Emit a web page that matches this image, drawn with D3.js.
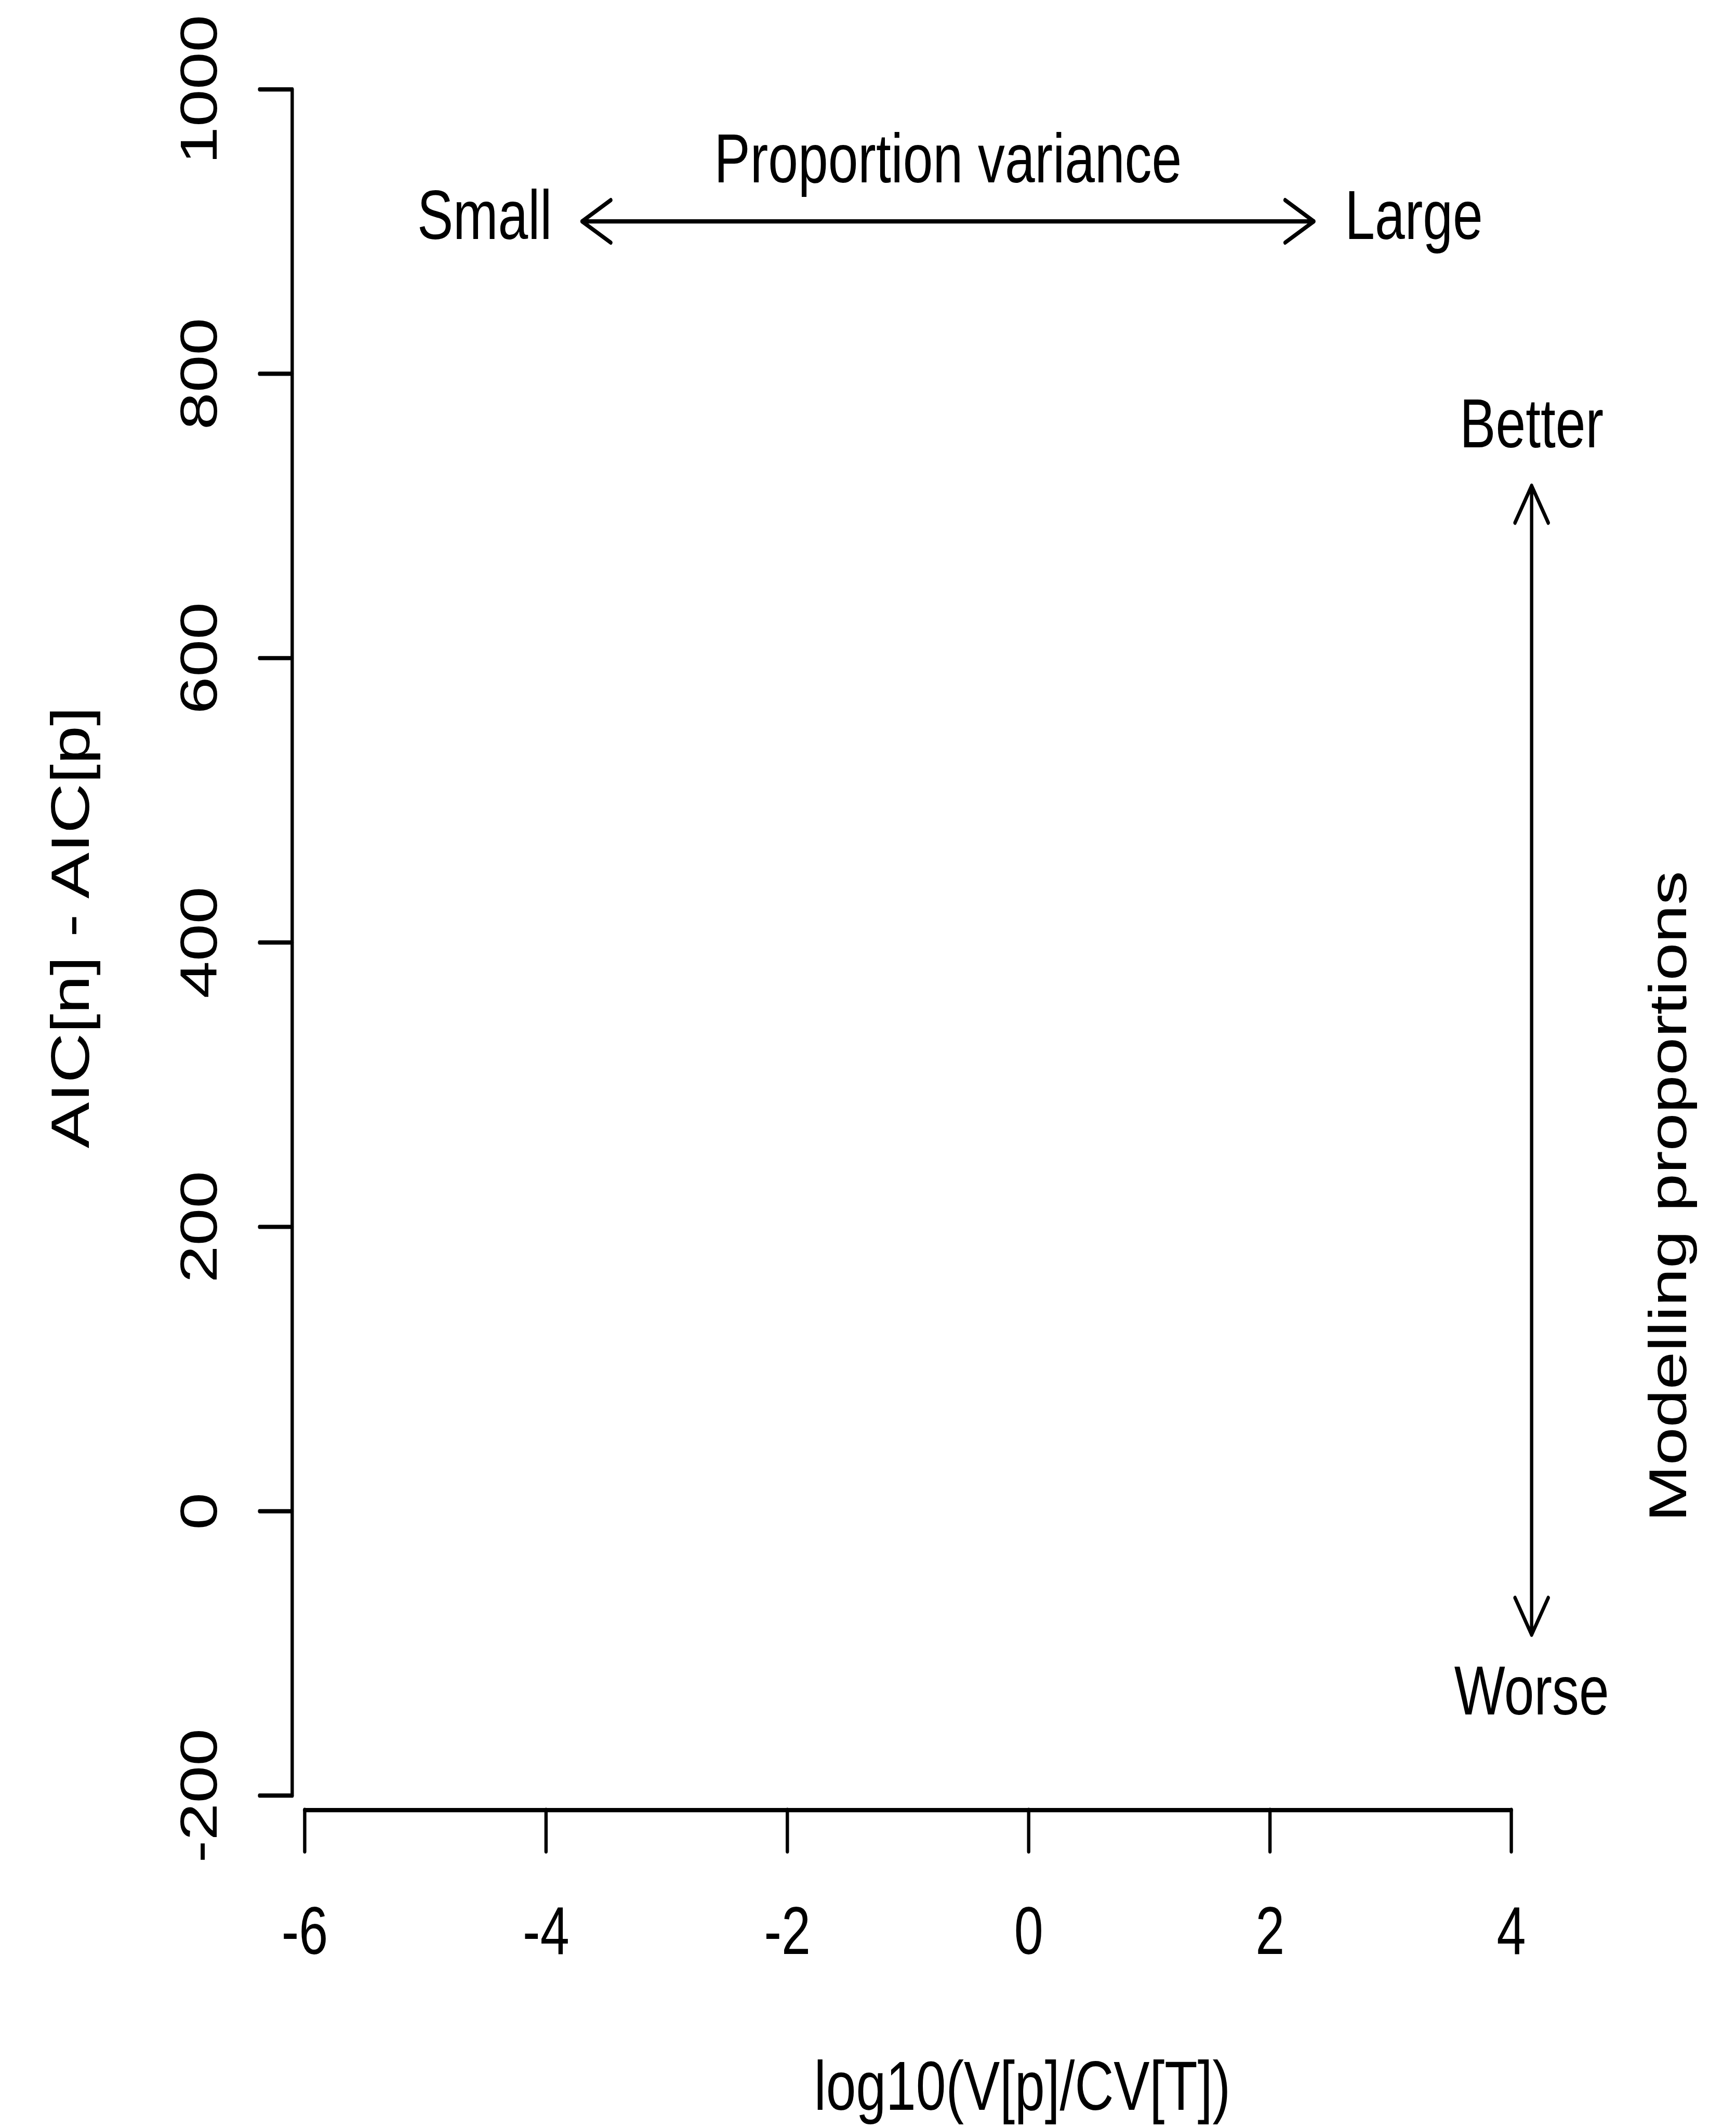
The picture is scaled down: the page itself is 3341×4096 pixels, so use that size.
<!DOCTYPE html>
<html>
<head>
<meta charset="utf-8">
<script src="https://cdn.jsdelivr.net/npm/d3@7"></script>
<style>
  html, body { margin: 0; padding: 0; background: #ffffff; }
  svg { display: block; }
  text { font-family: "Liberation Sans", Arial, Helvetica, sans-serif; fill: #000; }
</style>
</head>
<body>
<script>
// ---------------- data ----------------
const xDomain = [-6, 4];
const yDomain = [-200, 1000];
const xTicks = [-6, -4, -2, 0, 2, 4];
const yTicks = [-200, 0, 200, 400, 600, 800, 1000];
const xLabel = "log10(V[p]/CV[T])";
const yLabel = "AIC[n] - AIC[p]";
const sideLabel = "Modelling proportions";
const hArrowX = [-3.70, 2.365];    // proportion-variance arrow, x data range
const hArrowY = [907];             // its y data value
const hArrowLabels = ["Small", "Large"];
const hArrowTitle = ["Proportion variance"];
const vArrowX = [4.17];            // modelling arrow x data value
const vArrowY = [-87, 721];        // its y data range
const vArrowLabels = ["Worse", "Better"];

// ---------------- layout ----------------
const W = 3341, H = 4096;
const K = W / 3466;       // overall scale to window
const SX = 0.78;          // horizontal squeeze of the original picture
const ix = px => px / SX; // reference horizontal pixels -> internal units

const svg = d3.select("body").append("svg")
  .attr("width", W).attr("height", H)
  .attr("viewBox", `0 0 ${W} ${H}`);
svg.append("rect").attr("width", W).attr("height", H).attr("fill", "#fff");

const root = svg.append("g").attr("transform", `scale(${K * SX},${K})`);

const x = d3.scaleLinear().domain(xDomain).range([ix(608), ix(3017)]);
const y = d3.scaleLinear().domain(yDomain).range([3585, 178]);

const LW = 8.5;
const tickFont = 134, labFont = 138;

// ---------------- x axis ----------------
const gx = root.append("g")
  .attr("transform", `translate(0,3614)`)
  .call(d3.axisBottom(x).tickValues(xTicks).tickSize(83).tickSizeOuter(0)
        .tickFormat(d => String(d)));
gx.select(".domain").attr("stroke", "#000").attr("stroke-width", LW).attr("stroke-linecap", "round");
gx.selectAll(".tick line").attr("stroke", "#000").attr("stroke-width", LW).attr("stroke-linecap", "round");
gx.selectAll(".tick text")
  .attr("y", 288).attr("dy", null)
  .attr("font-size", tickFont)
  .attr("font-family", "Liberation Sans, Arial, Helvetica, sans-serif")
  .attr("fill", "#000");

// ---------------- y axis ----------------
const gy = root.append("g")
  .attr("transform", `translate(${ix(583)},0)`)
  .call(d3.axisLeft(y).tickValues(yTicks).tickSize(83).tickSizeOuter(0)
        .tickFormat(d => String(d)));
gy.select(".domain").attr("stroke", "#000").attr("stroke-width", LW).attr("stroke-linecap", "round");
gy.selectAll(".tick line").attr("stroke", "#000").attr("stroke-width", LW).attr("stroke-linecap", "round");
gy.selectAll(".tick text")
  .attr("x", null).attr("dy", null)
  .attr("text-anchor", "middle")
  .attr("transform", `translate(${-ix(583 - 433)},0) rotate(-90)`)
  .attr("font-size", tickFont)
  .attr("font-family", "Liberation Sans, Arial, Helvetica, sans-serif")
  .attr("fill", "#000");

// ---------------- axis titles ----------------
root.append("text")
  .attr("x", ix(2041)).attr("y", 4213)
  .attr("text-anchor", "middle").attr("font-size", labFont)
  .text(xLabel);

root.append("text")
  .attr("transform", `translate(${ix(177)},1852) rotate(-90)`)
  .attr("text-anchor", "middle").attr("font-size", labFont)
  .text(yLabel);

root.append("text")
  .attr("transform", `translate(${ix(3366)},2389) rotate(-90)`)
  .attr("text-anchor", "middle").attr("font-size", 136)
  .text(sideLabel);

// ---------------- arrows ----------------
const HEAD = 85, ANG = Math.PI / 6;
function arrowPath(p0, p1) {
  const p = d3.path();
  p.moveTo(p0[0], p0[1]); p.lineTo(p1[0], p1[1]);
  for (const [tip, from] of [[p1, p0], [p0, p1]]) {
    const a = Math.atan2(tip[1] - from[1], tip[0] - from[0]);
    for (const s of [-1, 1]) {
      const b = a + s * ANG;
      p.moveTo(tip[0] - HEAD * Math.cos(b), tip[1] - HEAD * Math.sin(b));
      p.lineTo(tip[0], tip[1]);
    }
  }
  return p.toString();
}

const hy = y(hArrowY[0]);
const hx0 = x(hArrowX[0]), hx1 = x(hArrowX[1]);
root.append("path")
  .attr("d", arrowPath([hx0, hy], [hx1, hy]))
  .attr("fill", "none").attr("stroke", "#000").attr("stroke-width", LW)
  .attr("stroke-linecap", "round").attr("stroke-linejoin", "round");

root.append("text")
  .attr("x", hx0 - ix(60)).attr("y", hy + 35)
  .attr("text-anchor", "end").attr("font-size", labFont)
  .text(hArrowLabels[0]);
root.append("text")
  .attr("x", hx1 + ix(62)).attr("y", hy + 35)
  .attr("text-anchor", "start").attr("font-size", labFont)
  .text(hArrowLabels[1]);
root.append("text")
  .attr("x", (hx0 + hx1) / 2).attr("y", hy - 78)
  .attr("text-anchor", "middle").attr("font-size", labFont)
  .text(hArrowTitle[0]);

const vx = x(vArrowX[0]);
const vy0 = y(vArrowY[0]), vy1 = y(vArrowY[1]);
root.append("path")
  .attr("d", arrowPath([vx, vy0], [vx, vy1]))
  .attr("fill", "none").attr("stroke", "#000").attr("stroke-width", LW)
  .attr("stroke-linecap", "round").attr("stroke-linejoin", "round");

root.append("text")
  .attr("x", vx).attr("y", vy1 - 77)
  .attr("text-anchor", "middle").attr("font-size", labFont)
  .text(vArrowLabels[1]);
root.append("text")
  .attr("x", vx).attr("y", vy0 + 159)
  .attr("text-anchor", "middle").attr("font-size", labFont)
  .text(vArrowLabels[0]);
</script>
</body>
</html>
